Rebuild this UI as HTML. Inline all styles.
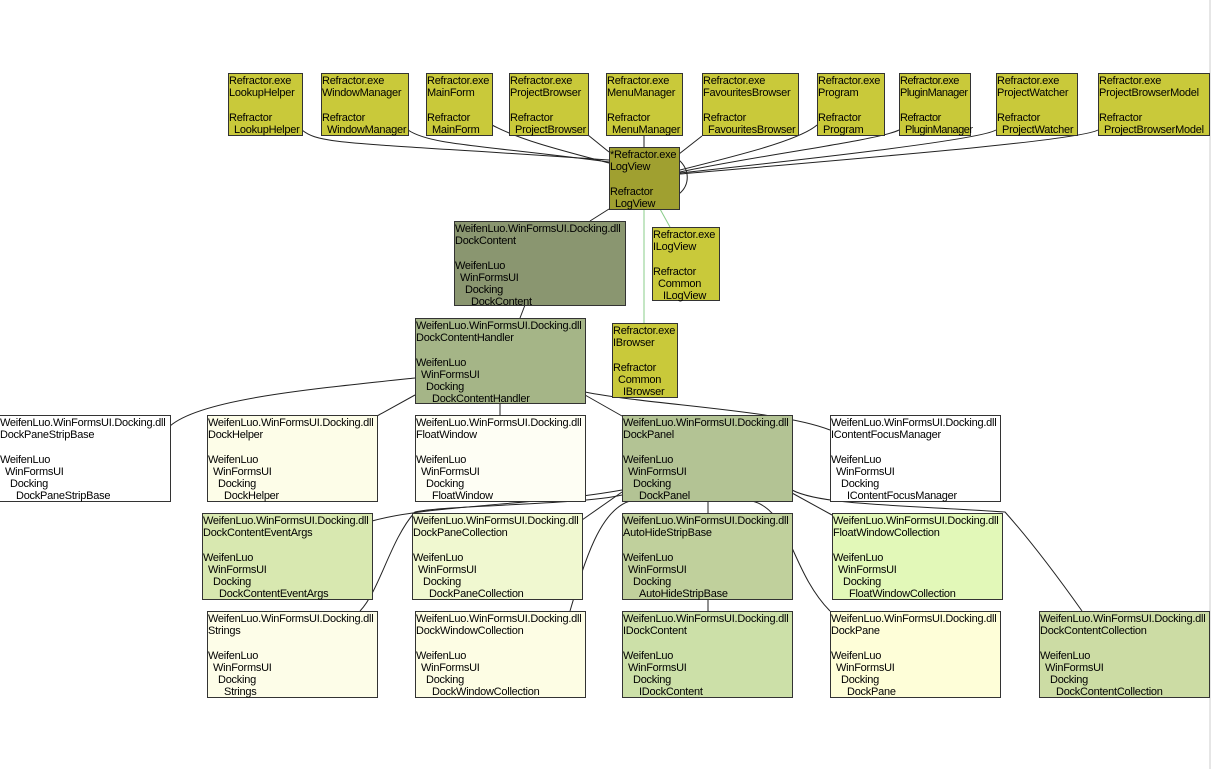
<!DOCTYPE html>
<html><head><meta charset="utf-8"><style>
body{margin:0;background:#fff;width:1212px;height:769px;overflow:hidden;position:relative;font-family:"Liberation Sans",sans-serif;}
.n{position:absolute;box-sizing:border-box;border:1px solid #333;font-size:11px;line-height:12.2px;color:#000;white-space:nowrap;padding-top:1px;letter-spacing:-0.25px}
.n div{height:12.2px}
.i1{margin-left:5px}.i2{margin-left:10px}.i3{margin-left:16px}
.y{background:#c9c93a}
svg{position:absolute;left:0;top:0}
</style></head><body>
<svg width="1212" height="769" fill="none" stroke="#222" stroke-width="1">
<path d="M302,130 C320,145 350,142 609,160"/>
<path d="M408,130 C430,145 480,145 609,162"/>
<path d="M492,125 C520,140 560,150 609,163"/>
<path d="M588,135 L609,152"/>
<path d="M644,136 L644,147"/>
<path d="M702,136 L679,154"/>
<path d="M817,125 C800,140 740,155 680,170"/>
<path d="M899,130 C880,140 760,155 680,172"/>
<path d="M996,130 C980,140 800,160 680,173"/>
<path d="M1098,130 C1080,140 900,155 680,174"/>
<path d="M679,160 C690,170 690,185 679,194"/>
<path d="M609,209 L590,221"/>
<path d="M525,305 L520,318"/>
<path d="M500,403 L500,415"/>
<path d="M415,378 C300,390 200,400 170,426"/>
<path d="M415,395 L377,416"/>
<path d="M585,395 L622,416"/>
<path d="M585,392 C650,405 780,410 830,430"/>
<path d="M622,490 C540,505 430,505 372,521"/>
<path d="M622,495 C580,505 445,505 415,512 C390,540 380,590 360,611"/>
<path d="M622,492 L582,520"/>
<path d="M630,501 C600,510 585,560 570,611"/>
<path d="M708,501 L708,513"/>
<path d="M708,599 L708,611"/>
<path d="M752,501 C790,510 790,570 830,611"/>
<path d="M792,493 L832,515"/>
<path d="M792,490 C820,505 900,505 1005,512 C1030,540 1060,580 1082,611"/>
<path d="M644,209 L644,323" stroke="#8c8"/>
<path d="M660,209 L670,227" stroke="#8c8"/>
<path d="M1210,0 L1210,769" stroke="#ccc"/>
</svg>

<div class="n y" style="left:228px;top:73px;width:75px;height:63px"><div>Refractor.exe</div><div>LookupHelper</div><div></div><div>Refractor</div><div class="i1">LookupHelper</div></div>
<div class="n y" style="left:321px;top:73px;width:88px;height:63px"><div>Refractor.exe</div><div>WindowManager</div><div></div><div>Refractor</div><div class="i1">WindowManager</div></div>
<div class="n y" style="left:426px;top:73px;width:67px;height:63px"><div>Refractor.exe</div><div>MainForm</div><div></div><div>Refractor</div><div class="i1">MainForm</div></div>
<div class="n y" style="left:509px;top:73px;width:80px;height:63px"><div>Refractor.exe</div><div>ProjectBrowser</div><div></div><div>Refractor</div><div class="i1">ProjectBrowser</div></div>
<div class="n y" style="left:606px;top:73px;width:77px;height:63px"><div>Refractor.exe</div><div>MenuManager</div><div></div><div>Refractor</div><div class="i1">MenuManager</div></div>
<div class="n y" style="left:702px;top:73px;width:97px;height:63px"><div>Refractor.exe</div><div>FavouritesBrowser</div><div></div><div>Refractor</div><div class="i1">FavouritesBrowser</div></div>
<div class="n y" style="left:817px;top:73px;width:68px;height:63px"><div>Refractor.exe</div><div>Program</div><div></div><div>Refractor</div><div class="i1">Program</div></div>
<div class="n y" style="left:899px;top:73px;width:72px;height:63px;letter-spacing:-0.5px"><div>Refractor.exe</div><div>PluginManager</div><div></div><div>Refractor</div><div class="i1">PluginManager</div></div>
<div class="n y" style="left:996px;top:73px;width:82px;height:63px"><div>Refractor.exe</div><div>ProjectWatcher</div><div></div><div>Refractor</div><div class="i1">ProjectWatcher</div></div>
<div class="n y" style="left:1098px;top:73px;width:112px;height:63px"><div>Refractor.exe</div><div>ProjectBrowserModel</div><div></div><div>Refractor</div><div class="i1">ProjectBrowserModel</div></div>

<div class="n" style="left:609px;top:147px;width:71px;height:63px;background:#a0a030"><div>*Refractor.exe</div><div>LogView</div><div></div><div>Refractor</div><div class="i1">LogView</div></div>
<div class="n y" style="left:652px;top:227px;width:68px;height:74px"><div>Refractor.exe</div><div>ILogView</div><div></div><div>Refractor</div><div class="i1">Common</div><div class="i2">ILogView</div></div>
<div class="n y" style="left:612px;top:323px;width:66px;height:75px"><div>Refractor.exe</div><div>IBrowser</div><div></div><div>Refractor</div><div class="i1">Common</div><div class="i2">IBrowser</div></div>

<div class="n" style="left:454px;top:221px;width:172px;height:85px;background:#8a9670"><div>WeifenLuo.WinFormsUI.Docking.dll</div><div>DockContent</div><div></div><div>WeifenLuo</div><div class="i1">WinFormsUI</div><div class="i2">Docking</div><div class="i3">DockContent</div></div>
<div class="n" style="left:415px;top:318px;width:171px;height:86px;background:#a5b587"><div>WeifenLuo.WinFormsUI.Docking.dll</div><div>DockContentHandler</div><div></div><div>WeifenLuo</div><div class="i1">WinFormsUI</div><div class="i2">Docking</div><div class="i3">DockContentHandler</div></div>

<div class="n" style="left:-1px;top:415px;width:172px;height:87px;background:#fff"><div>WeifenLuo.WinFormsUI.Docking.dll</div><div>DockPaneStripBase</div><div></div><div>WeifenLuo</div><div class="i1">WinFormsUI</div><div class="i2">Docking</div><div class="i3">DockPaneStripBase</div></div>
<div class="n" style="left:207px;top:415px;width:171px;height:87px;background:#fdfde8"><div>WeifenLuo.WinFormsUI.Docking.dll</div><div>DockHelper</div><div></div><div>WeifenLuo</div><div class="i1">WinFormsUI</div><div class="i2">Docking</div><div class="i3">DockHelper</div></div>
<div class="n" style="left:415px;top:415px;width:171px;height:87px;background:#fefef4"><div>WeifenLuo.WinFormsUI.Docking.dll</div><div>FloatWindow</div><div></div><div>WeifenLuo</div><div class="i1">WinFormsUI</div><div class="i2">Docking</div><div class="i3">FloatWindow</div></div>
<div class="n" style="left:622px;top:415px;width:171px;height:87px;background:#b3c394"><div>WeifenLuo.WinFormsUI.Docking.dll</div><div>DockPanel</div><div></div><div>WeifenLuo</div><div class="i1">WinFormsUI</div><div class="i2">Docking</div><div class="i3">DockPanel</div></div>
<div class="n" style="left:830px;top:415px;width:171px;height:87px;background:#fff"><div>WeifenLuo.WinFormsUI.Docking.dll</div><div>IContentFocusManager</div><div></div><div>WeifenLuo</div><div class="i1">WinFormsUI</div><div class="i2">Docking</div><div class="i3">IContentFocusManager</div></div>

<div class="n" style="left:202px;top:513px;width:171px;height:87px;background:#d8e8b0"><div>WeifenLuo.WinFormsUI.Docking.dll</div><div>DockContentEventArgs</div><div></div><div>WeifenLuo</div><div class="i1">WinFormsUI</div><div class="i2">Docking</div><div class="i3">DockContentEventArgs</div></div>
<div class="n" style="left:412px;top:513px;width:171px;height:87px;background:#f0f8d0"><div>WeifenLuo.WinFormsUI.Docking.dll</div><div>DockPaneCollection</div><div></div><div>WeifenLuo</div><div class="i1">WinFormsUI</div><div class="i2">Docking</div><div class="i3">DockPaneCollection</div></div>
<div class="n" style="left:622px;top:513px;width:171px;height:87px;background:#c0d09c"><div>WeifenLuo.WinFormsUI.Docking.dll</div><div>AutoHideStripBase</div><div></div><div>WeifenLuo</div><div class="i1">WinFormsUI</div><div class="i2">Docking</div><div class="i3">AutoHideStripBase</div></div>
<div class="n" style="left:832px;top:513px;width:171px;height:87px;background:#e2f8b8"><div>WeifenLuo.WinFormsUI.Docking.dll</div><div>FloatWindowCollection</div><div></div><div>WeifenLuo</div><div class="i1">WinFormsUI</div><div class="i2">Docking</div><div class="i3">FloatWindowCollection</div></div>

<div class="n" style="left:207px;top:611px;width:171px;height:87px;background:#fdfde8"><div>WeifenLuo.WinFormsUI.Docking.dll</div><div>Strings</div><div></div><div>WeifenLuo</div><div class="i1">WinFormsUI</div><div class="i2">Docking</div><div class="i3">Strings</div></div>
<div class="n" style="left:415px;top:611px;width:171px;height:87px;background:#fdfde4"><div>WeifenLuo.WinFormsUI.Docking.dll</div><div>DockWindowCollection</div><div></div><div>WeifenLuo</div><div class="i1">WinFormsUI</div><div class="i2">Docking</div><div class="i3">DockWindowCollection</div></div>
<div class="n" style="left:622px;top:611px;width:171px;height:87px;background:#cce0a8"><div>WeifenLuo.WinFormsUI.Docking.dll</div><div>IDockContent</div><div></div><div>WeifenLuo</div><div class="i1">WinFormsUI</div><div class="i2">Docking</div><div class="i3">IDockContent</div></div>
<div class="n" style="left:830px;top:611px;width:171px;height:87px;background:#fefed8"><div>WeifenLuo.WinFormsUI.Docking.dll</div><div>DockPane</div><div></div><div>WeifenLuo</div><div class="i1">WinFormsUI</div><div class="i2">Docking</div><div class="i3">DockPane</div></div>
<div class="n" style="left:1039px;top:611px;width:171px;height:87px;background:#ccdca4"><div>WeifenLuo.WinFormsUI.Docking.dll</div><div>DockContentCollection</div><div></div><div>WeifenLuo</div><div class="i1">WinFormsUI</div><div class="i2">Docking</div><div class="i3">DockContentCollection</div></div>
</body></html>
